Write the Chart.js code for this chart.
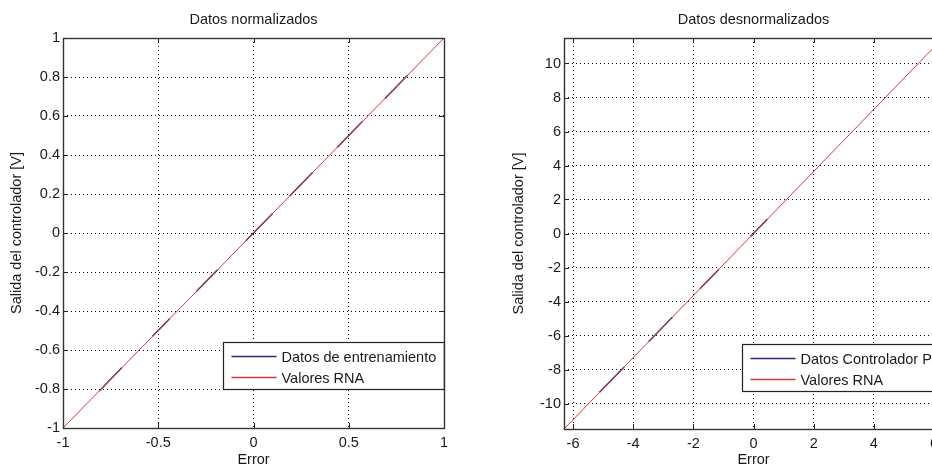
<!DOCTYPE html>
<html>
<head>
<meta charset="utf-8">
<script src="https://cdn.jsdelivr.net/npm/chart.js@4"></script>
<style>
  html, body { margin: 0; padding: 0; background: #fff; width: 932px; height: 469px; overflow: hidden; position: relative; }
  canvas { position: absolute; top: 0; }
  #normChart { left: 0; }
  #denormChart { left: 502px; }
</style>
</head>
<body>
<canvas id="normChart" width="466" height="469"></canvas>
<canvas id="denormChart" width="460" height="469"></canvas>
<script>
// ---- texts ----
const normTitle = 'Datos normalizados';
const denormTitle = 'Datos desnormalizados';
const xAxisLabel = 'Error';
const yAxisLabel = 'Salida del controlador [V]';
const normTrainLabel = 'Datos de entrenamiento';
const denormTrainLabel = 'Datos Controlador PI';
const rnaLabel = 'Valores RNA';

// ---- normalized axes ----
const normXRange = [-1, 1];
const normYRange = [-1, 1];
const normXTicks = [-1, -0.5, 0, 0.5, 1];
const normXTickLabels = ['-1', '-0.5', '0', '0.5', '1'];
const normYTicks = [-1, -0.8, -0.6, -0.4, -0.2, 0, 0.2, 0.4, 0.6, 0.8, 1];
const normYTickLabels = ['-1', '-0.8', '-0.6', '-0.4', '-0.2', '0', '0.2', '0.4', '0.6', '0.8', '1'];

// ---- denormalized axes ----
const denormXRange = [-6.3, 6.3];
const denormYRange = [-11.5, 11.5];
const denormXTicks = [-6, -4, -2, 0, 2, 4, 6];
const denormXTickLabels = ['-6', '-4', '-2', '0', '2', '4', '6'];
const denormYTicks = [-10, -8, -6, -4, -2, 0, 2, 4, 6, 8, 10];
const denormYTickLabels = ['-10', '-8', '-6', '-4', '-2', '0', '2', '4', '6', '8', '10'];

// ---- training samples, stored as separate runs ----
const normTrainX = [[-0.81, -0.69], [-0.53, -0.44], [-0.30, -0.19], [-0.04, 0.10], [0.19, 0.31], [0.44, 0.57], [0.69, 0.81]];
const normTrainY = [[-0.81, -0.69], [-0.53, -0.44], [-0.30, -0.19], [-0.04, 0.10], [0.19, 0.31], [0.44, 0.57], [0.69, 0.81]];
const denormTrainX = [[-5.12, -4.30], [-3.48, -2.70], [-1.78, -1.15], [-0.10, 0.46]];
const denormTrainY = [[-9.34, -7.85], [-6.35, -4.93], [-3.25, -2.10], [-0.18, 0.84]];

// ---- network output ----
const normRnaX = [-1, 1];
const normRnaY = [-1, 1];
const denormRnaX = [-6.3, 6.3];
const denormRnaY = [-11.5, 11.5];

const FONT = '"Liberation Sans", Arial, Helvetica, sans-serif';
const TEXT = '#1a1a1a';
const BLUE = '#2b2b7e';
const RED = '#cf3b3b';

function runsToPoints(xs, ys) {
  const pts = [];
  xs.forEach((run, i) => {
    run.forEach((x, j) => pts.push({ x: x, y: ys[i][j] }));
    pts.push({ x: run[run.length - 1], y: null }); // break between runs
  });
  return pts;
}
function pairsToPoints(xs, ys) {
  return xs.map((x, i) => ({ x: x, y: ys[i] }));
}

// box, inward tick marks and legend drawn over the plot
const axesBox = {
  id: 'axesBox',
  afterDraw(chart, args, opts) {
    const { ctx, chartArea: ca } = chart;
    const xs = chart.scales.x, ys = chart.scales.y;
    ctx.save();
    ctx.strokeStyle = '#222';
    ctx.lineWidth = 1;
    ctx.setLineDash([]);
    ctx.beginPath();
    xs.ticks.forEach(t => {
      const px = Math.round(xs.getPixelForValue(t.value)) + 0.5;
      if (px - ca.left < 2 || ca.right - px < 2) return;
      ctx.moveTo(px, ca.bottom); ctx.lineTo(px, ca.bottom - 5);
      ctx.moveTo(px, ca.top); ctx.lineTo(px, ca.top + 5);
    });
    ys.ticks.forEach(t => {
      const py = Math.round(ys.getPixelForValue(t.value)) + 0.5;
      if (py - ca.top < 2 || ca.bottom - py < 2) return;
      ctx.moveTo(ca.left, py); ctx.lineTo(ca.left + 5, py);
      ctx.moveTo(ca.right, py); ctx.lineTo(ca.right - 5, py);
    });
    ctx.stroke();
    ctx.strokeStyle = '#333';
    ctx.lineWidth = 1.4;
    ctx.strokeRect(Math.round(ca.left) + 0.5, Math.round(ca.top) + 0.5,
                   Math.round(ca.right - ca.left), Math.round(ca.bottom - ca.top));

    // legend
    ctx.font = '14.5px ' + FONT;
    const labels = chart.data.datasets.map(d => d.label);
    const tw = Math.max(...labels.map(l => ctx.measureText(l).width));
    const w = 58 + tw + 8, h = 47;
    const lx = Math.round(ca.right - w) + 0.5;
    const ly = Math.round(ca.bottom - opts.gap - h) + 0.5;
    ctx.fillStyle = '#fff';
    ctx.fillRect(lx, ly, w, h);
    ctx.lineWidth = 1.2;
    ctx.strokeStyle = '#222';
    ctx.strokeRect(lx, ly, w, h);
    chart.data.datasets.forEach((d, i) => {
      const ry = ly + 14 + i * 21;
      ctx.strokeStyle = d.borderColor;
      ctx.lineWidth = 1.3;
      ctx.beginPath();
      ctx.moveTo(lx + 8, ry); ctx.lineTo(lx + 53, ry);
      ctx.stroke();
      ctx.fillStyle = TEXT;
      ctx.textBaseline = 'middle';
      ctx.textAlign = 'left';
      ctx.fillText(d.label, lx + 58, ry + 1);
    });
    ctx.restore();
  }
};

function buildScale(range, ticks, tickLabels, pad, extra) {
  return Object.assign({
    type: 'linear',
    min: range[0],
    max: range[1],
    afterBuildTicks: s => { s.ticks = ticks.map(v => ({ value: v })); },
    ticks: {
      autoSkip: false,
      maxRotation: 0,
      padding: pad,
      color: TEXT,
      font: { family: FONT, size: 14.5 },
      callback: v => { const i = ticks.indexOf(v); return i >= 0 ? tickLabels[i] : ''; }
    },
    grid: { color: '#000', lineWidth: 1, drawTicks: false },
    border: { display: false, dash: [1, 3] }
  }, extra);
}

function makePlot(id, p) {
  return new Chart(document.getElementById(id), {
    type: 'line',
    data: {
      datasets: [
        { label: p.trainLabel, data: runsToPoints(p.trainX, p.trainY), borderColor: BLUE,
          borderWidth: 1.5, pointRadius: 0, spanGaps: false, tension: 0, order: 1 },
        { label: rnaLabel, data: pairsToPoints(p.rnaX, p.rnaY), borderColor: RED,
          borderWidth: 1, pointRadius: 0, tension: 0, order: 0 }
      ]
    },
    options: {
      responsive: false,
      animation: false,
      events: [],
      layout: { padding: { left: 0, right: p.padRight, top: 0, bottom: 0 } },
      plugins: {
        legend: { display: false },
        tooltip: { enabled: false },
        title: { display: true, text: p.title, fullSize: false, color: TEXT,
                 font: { family: FONT, size: 14.5, weight: 'normal' },
                 padding: { top: 11, bottom: 9.6 } },
        axesBox: { gap: p.legendGap }
      },
      scales: {
        x: buildScale(p.xRange, p.xTicks, p.xTickLabels, 6, {
          position: 'bottom',
          title: { display: true, text: xAxisLabel, color: TEXT,
                   font: { family: FONT, size: 14.5 }, padding: { top: 0, bottom: 0 } },
          afterFit: s => { s.height = p.xAxisH; }
        }),
        y: buildScale(p.yRange, p.yTicks, p.yTickLabels, 3, {
          position: 'left',
          title: { display: true, text: yAxisLabel, color: TEXT,
                   font: { family: FONT, size: 14.5 }, padding: { top: 8.3, bottom: 0 } },
          afterFit: s => { s.width = p.yAxisW; }
        })
      }
    },
    plugins: [axesBox]
  });
}

makePlot('normChart', {
  title: normTitle, trainLabel: normTrainLabel,
  trainX: normTrainX, trainY: normTrainY, rnaX: normRnaX, rnaY: normRnaY,
  xRange: normXRange, yRange: normYRange,
  xTicks: normXTicks, xTickLabels: normXTickLabels,
  yTicks: normYTicks, yTickLabels: normYTickLabels,
  padRight: 22, xAxisH: 41, yAxisW: 63, legendGap: 39
});

makePlot('denormChart', {
  title: denormTitle, trainLabel: denormTrainLabel,
  trainX: denormTrainX, trainY: denormTrainY, rnaX: denormRnaX, rnaY: denormRnaY,
  xRange: denormXRange, yRange: denormYRange,
  xTicks: denormXTicks, xTickLabels: denormXTickLabels,
  yTicks: denormYTicks, yTickLabels: denormYTickLabels,
  padRight: 19, xAxisH: 40, yAxisW: 62, legendGap: 38
});
</script>
</body>
</html>
